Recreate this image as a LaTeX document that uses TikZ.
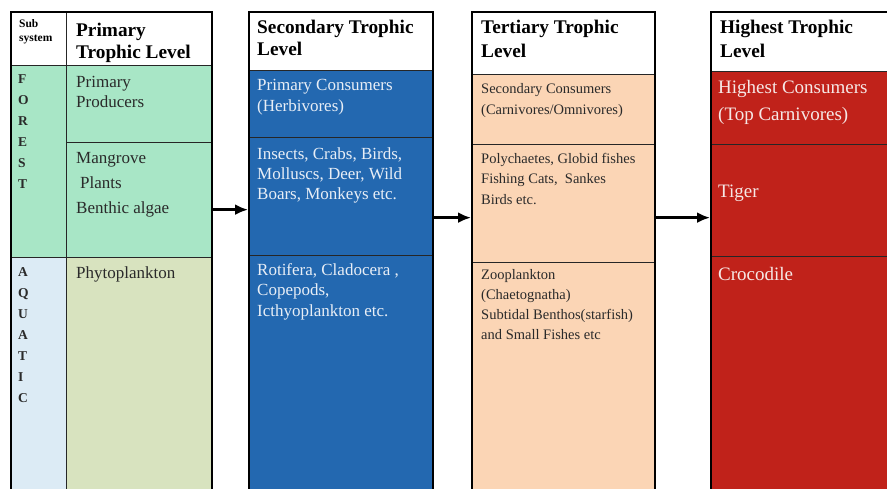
\documentclass[tikz,border=0pt]{standalone}
\usepackage{fontspec}
\setmainfont{Liberation Serif}[BoldFont={Liberation Serif Bold}]
\usetikzlibrary{arrows.meta}
\definecolor{mint}{HTML}{A8E6C6}
\definecolor{aqua}{HTML}{DCEBF5}
\definecolor{khaki}{HTML}{D8E3BF}
\definecolor{deepblue}{HTML}{2368B0}
\definecolor{peach}{HTML}{FBD5B5}
\definecolor{topred}{HTML}{C0221A}
\definecolor{darktext}{HTML}{2A2A2A}
\definecolor{lighttext}{HTML}{E8EEF6}
\definecolor{redtext}{HTML}{F6E8E6}
\newcommand{\ptxt}[3]{\parbox[t]{220pt}{\fontsize{#1}{#2}\selectfont\raggedright #3}}
\begin{document}
\begin{tikzpicture}[x=1pt,y=-1pt,
  cell/.style={draw=black!85,line width=1.3pt,inner sep=0pt,anchor=north west},
  frame/.style={draw=black,line width=2.3pt,inner sep=0pt,anchor=north west},
  txt/.style={inner sep=0pt,anchor=base west},
  arr/.style={line width=2.8pt,-{Latex[length=13pt,width=11pt]}}]
\useasboundingbox (0,0) rectangle (887,488);
\clip (0,0) rectangle (887,488);
% column 1
\node[cell,fill=white,minimum width=56pt,minimum height=54pt] (subh) at (10,11) {};
\node[cell,fill=white,minimum width=145pt,minimum height=54pt] (h1) at (66,11) {};
\node[cell,fill=mint,minimum width=56pt,minimum height=192pt] (forest) at (10,65) {};
\node[cell,fill=mint,minimum width=145pt,minimum height=77pt] (pp) at (66,65) {};
\node[cell,fill=mint,minimum width=145pt,minimum height=115pt] (mang) at (66,142) {};
\node[cell,fill=aqua,minimum width=56pt,minimum height=240pt] (aquatic) at (10,257) {};
\node[cell,fill=khaki,minimum width=145pt,minimum height=240pt] (phyto) at (66,257) {};
\node[frame,minimum width=201pt,minimum height=490pt] (col1) at (10,11) {};
% column 2
\node[cell,fill=white,minimum width=184pt,minimum height=59pt] (h2) at (248,11) {};
\node[cell,fill=deepblue,minimum width=184pt,minimum height=67pt] (s1) at (248,70) {};
\node[cell,fill=deepblue,minimum width=184pt,minimum height=118pt] (s2) at (248,137) {};
\node[cell,fill=deepblue,minimum width=184pt,minimum height=245pt] (s3) at (248,255) {};
\node[frame,minimum width=184pt,minimum height=490pt] (col2) at (248,11) {};
% column 3
\node[cell,fill=white,minimum width=183pt,minimum height=63pt] (h3) at (471,11) {};
\node[cell,fill=peach,minimum width=183pt,minimum height=70pt] (t1) at (471,74) {};
\node[cell,fill=peach,minimum width=183pt,minimum height=118pt] (t2) at (471,144) {};
\node[cell,fill=peach,minimum width=183pt,minimum height=240pt] (t3) at (471,262) {};
\node[frame,minimum width=183pt,minimum height=490pt] (col3) at (471,11) {};
% column 4
\node[cell,fill=white,minimum width=190pt,minimum height=60pt] (h4) at (710,11) {};
\node[cell,fill=topred,minimum width=190pt,minimum height=73pt] (r1) at (710,71) {};
\node[cell,fill=topred,minimum width=190pt,minimum height=112pt] (r2) at (710,144) {};
\node[cell,fill=topred,minimum width=190pt,minimum height=245pt] (r3) at (710,256) {};
\node[frame,minimum width=190pt,minimum height=490pt] (col4) at (710,11) {};
% texts column 1
\node[txt] (tsub) at (19,27) {\ptxt{11.5}{14}{\bfseries Sub\\system}};
\node[txt] (th1) at (76,36) {\ptxt{19.3}{22}{\bfseries Primary\\Trophic Level}};
\node[txt,text=darktext] (tpp) at (76,87) {\ptxt{17}{20}{Primary\\Producers}};
\node[txt,text=darktext] (tmang) at (76,163) {\ptxt{17}{25}{Mangrove\\\hspace*{4pt}Plants\\Benthic algae}};
\node[txt,text=darktext] (tphyto) at (76,278) {\ptxt{17}{20}{Phytoplankton}};
\node[txt,text=darktext] (tforest) at (18,83) {\ptxt{13.5}{21}{\bfseries F\\O\\R\\E\\S\\T}};
\node[txt,text=darktext] (taquatic) at (18,276) {\ptxt{13.5}{21}{\bfseries A\\Q\\U\\A\\T\\I\\C}};
% texts column 2
\node[txt] (th2) at (257,33) {\ptxt{19.3}{22}{\bfseries Secondary Trophic\\Level}};
\node[txt,text=lighttext] (ts1) at (257,90) {\ptxt{17}{21}{Primary Consumers\\(Herbivores)}};
\node[txt,text=lighttext] (ts2) at (257,159) {\ptxt{17}{20}{Insects, Crabs, Birds,\\Molluscs, Deer, Wild\\Boars, Monkeys etc.}};
\node[txt,text=lighttext] (ts3) at (257,275) {\ptxt{17}{20.5}{Rotifera, Cladocera ,\\Copepods,\\Icthyoplankton etc.}};
% texts column 3
\node[txt] (th3) at (481,33) {\ptxt{19.3}{24}{\bfseries Tertiary Trophic\\Level}};
\node[txt,text=darktext] (tt1) at (481,93) {\ptxt{14.5}{21}{Secondary Consumers\\(Carnivores/Omnivores)}};
\node[txt,text=darktext] (tt2) at (481,163) {\ptxt{14.5}{20.5}{Polychaetes, Globid fishes\\Fishing Cats,\ \ Sankes\\Birds etc.}};
\node[txt,text=darktext] (tt3) at (481,279) {\ptxt{14.5}{20.3}{Zooplankton\\(Chaetognatha)\\Subtidal Benthos(starfish)\\and Small Fishes etc}};
% texts column 4
\node[txt] (th4) at (720,33) {\ptxt{19.3}{24}{\bfseries Highest Trophic\\Level}};
\node[txt,text=redtext] (tr1) at (718,93) {\ptxt{19}{27}{Highest Consumers\\(Top Carnivores)}};
\node[txt,text=redtext] (tr2) at (718,197) {\ptxt{19}{27}{Tiger}};
\node[txt,text=redtext] (tr3) at (718,280) {\ptxt{19}{27}{Crocodile}};
% arrows
\draw[arr] ([yshift=-9.5pt]mang.east) -- ([yshift=-9.5pt]mang.east -| col2.west);
\draw[arr] ([yshift=-21pt]s2.east) -- ([yshift=-21pt]s2.east -| col3.west);
\draw[arr] ([yshift=-14pt]t2.east) -- ([yshift=-14pt]t2.east -| col4.west);
\end{tikzpicture}
\end{document}
